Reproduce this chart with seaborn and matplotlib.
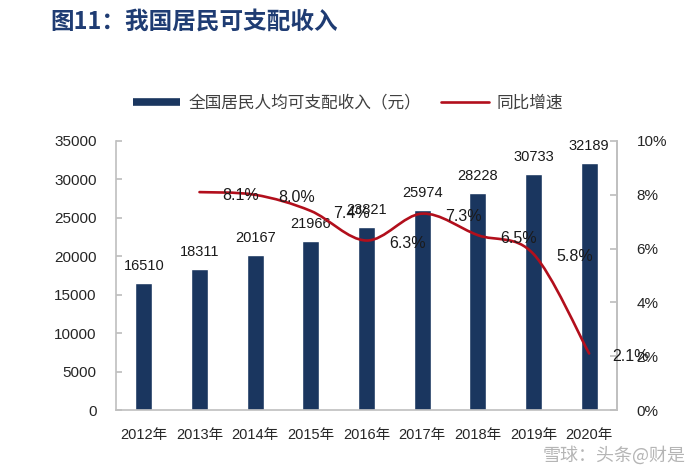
import matplotlib
matplotlib.use('Agg')
import matplotlib.pyplot as plt
import seaborn as sns
import pandas as pd
from matplotlib.path import Path
from matplotlib.patches import PathPatch
from matplotlib.lines import Line2D

# ---- data ----
years = ['2012年', '2013年', '2014年', '2015年', '2016年', '2017年', '2018年', '2019年', '2020年']
income = [16510, 18311, 20167, 21966, 23821, 25974, 28228, 30733, 32189]
growth_years = ['2013年', '2014年', '2015年', '2016年', '2017年', '2018年', '2019年', '2020年']
growth = [8.1, 8.0, 7.4, 6.3, 7.3, 6.5, 5.8, 2.1]
left_ticks = [0, 5000, 10000, 15000, 20000, 25000, 30000, 35000]
right_ticks = [0, 2, 4, 6, 8, 10]
right_tick_labels = ['0%', '2%', '4%', '6%', '8%', '10%']
legend_labels = ['全国居民人均可支配收入（元）', '同比增速']
title = '图11：我国居民可支配收入'

navy = '#1a365f'
red = '#b20f1c'
grey = '#bfbfbf'
txt = '#262626'

sns.set_theme(style='white')
plt.rcParams['font.family'] = ['Liberation Sans', 'Noto Sans CJK SC', 'DejaVu Sans']

fig = plt.figure(figsize=(6.96, 4.76), dpi=100)
ax = fig.add_axes([116 / 696, 1 - 410 / 476, 501 / 696, 269 / 476])

df = pd.DataFrame({'year': years, 'income': income})
sns.barplot(data=df, x='year', y='income', color=navy, saturation=1, width=0.31, ax=ax)
ax.set_xlim(-0.5, 8.5)
ax.set_ylim(0, 35000)
ax.set_yticks(left_ticks)
ax.set_xlabel('')
ax.set_ylabel('')
ax.tick_params(axis='y', left=True, direction='in', length=4, color=grey, pad=14,
               labelsize=11, labelcolor=txt)
ax.tick_params(axis='x', bottom=False, length=0, pad=13, labelsize=10.5, labelcolor=txt)
for s in ['left', 'bottom', 'right']:
    ax.spines[s].set_color(grey)
    ax.spines[s].set_linewidth(1.2)
ax.spines['top'].set_visible(False)

for i, v in enumerate(income):
    ax.annotate(str(v), (i, v), xytext=(0, 10), textcoords='offset pixels',
                ha='center', va='bottom', fontsize=10.5, color='#1a1a1a')

# ---- growth line (smoothed Bezier through data points) ----
ax2 = ax.twinx()
ax2.set_ylim(0, 10)
ax2.set_yticks(right_ticks)
ax2.set_yticklabels(right_tick_labels)
ax2.tick_params(axis='y', right=True, direction='in', length=5, color=grey, pad=14,
                labelsize=11, labelcolor=txt)
for s in ['left', 'bottom', 'top']:
    ax2.spines[s].set_visible(False)
ax2.spines['right'].set_color(grey)
ax2.spines['right'].set_linewidth(1.2)
ax2.grid(False)

xs = [years.index(y) for y in growth_years]
pts = list(zip(xs, growth))
n = len(pts)
verts = [pts[0]]
codes = [Path.MOVETO]
for i in range(n - 1):
    p0 = pts[i - 1] if i > 0 else pts[i]
    p1 = pts[i]
    p2 = pts[i + 1]
    p3 = pts[i + 2] if i + 2 < n else pts[i + 1]
    c1 = (p1[0] + (p2[0] - p0[0]) / 6, p1[1] + (p2[1] - p0[1]) / 6)
    c2 = (p2[0] - (p3[0] - p1[0]) / 6, p2[1] - (p3[1] - p1[1]) / 6)
    verts += [c1, c2, p2]
    codes += [Path.CURVE4] * 3
ax2.add_patch(PathPatch(Path(verts, codes), facecolor='none', edgecolor=red, lw=1.9,
                        capstyle='round', joinstyle='round'))

for x, g in zip(xs, growth):
    ax2.annotate(f'{g:.1f}%', (x, g), xytext=(41, -3), textcoords='offset pixels',
                 ha='center', va='center', fontsize=11.5, color='#1a1a1a')

# ---- legend ----
handles = [Line2D([0], [0], color=navy, lw=5.5, solid_capstyle='butt'),
           Line2D([0], [0], color=red, lw=1.9)]
leg = fig.legend(handles, legend_labels, loc='center', bbox_to_anchor=(0.5, 1 - 103 / 476),
                 ncol=2, frameon=False, handlelength=2.85, handletextpad=0.5,
                 columnspacing=1.2, prop={'family': ['Noto Sans CJK SC'], 'size': 12})
for t in leg.get_texts():
    t.set_color('#404040')

# ---- title ----
fig.text(50 / 696, 1 - 22 / 476, title, fontsize=17, fontweight='bold', color='#1f3c73',
         va='center', ha='left', family=['Noto Sans CJK SC', 'DejaVu Sans'])

# watermark
fig.text(0.985, 1 - 455 / 476, '雪球：头条@财是', fontsize=13, color='#b5b5b5',
         ha='right', va='center', family=['Noto Sans CJK SC', 'DejaVu Sans'])

fig.savefig('out.png', dpi=100)
